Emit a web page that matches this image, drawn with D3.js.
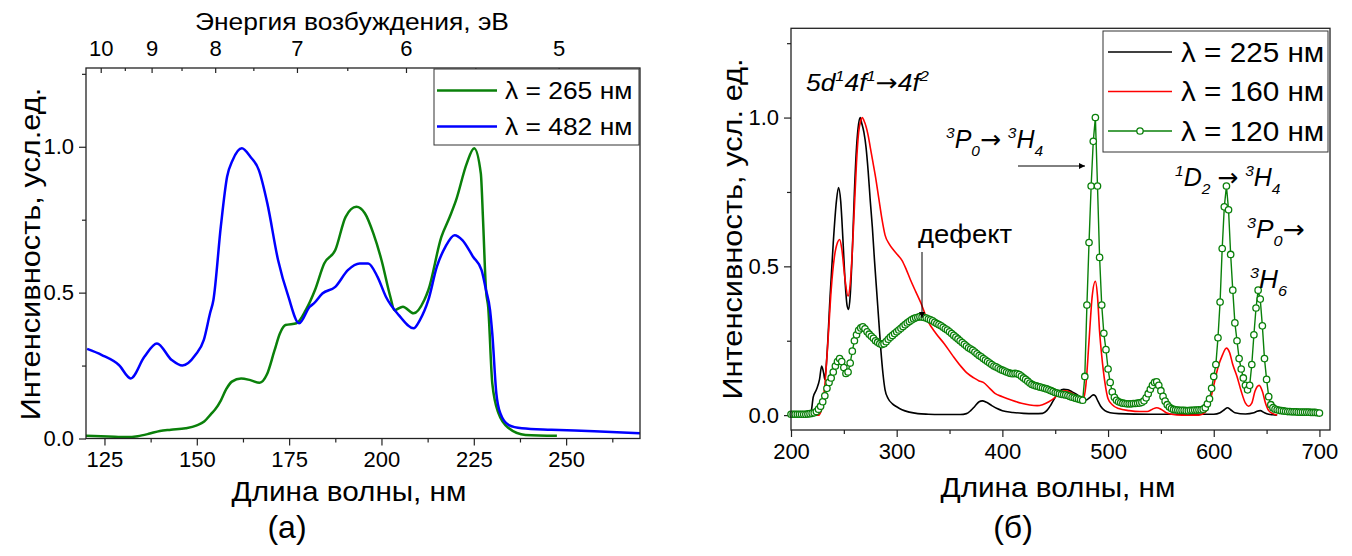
<!DOCTYPE html>
<html><head><meta charset="utf-8">
<script src="https://cdn.jsdelivr.net/npm/d3@7"></script>
<style>
body{margin:0;background:#fff}
svg{display:block}
text{font-family:"Liberation Sans", Arial, sans-serif;fill:#000}
</style></head><body>
<svg id="c" width="1352" height="556"></svg>
<script>
// ---------- Panel (a) data ----------
const wlA265 = [120,126,131,134,137,140,143,147,150,152,154,155,156.5,158,159.5,162,164.5,167,169,171,172.5,174,177,179.5,182,184.5,187.5,190.3,193.2,195.5,197.8,200,202.4,203.5,205.8,208.7,211.6,212.7,216.2,218.5,220.2,223.1,225.1,226.9,227.5,228.3,228.9,230,231.7,234.5,239,247.5];
const valA265 = [0.009,0.007,0.005,0.008,0.016,0.026,0.03,0.035,0.045,0.058,0.086,0.1,0.13,0.17,0.195,0.206,0.2,0.191,0.22,0.3,0.36,0.389,0.395,0.44,0.509,0.6,0.646,0.76,0.794,0.772,0.703,0.612,0.486,0.44,0.452,0.429,0.475,0.509,0.69,0.76,0.817,0.943,0.995,0.909,0.75,0.509,0.45,0.19,0.086,0.035,0.012,0.009];
const wlA482 = [120.3,124.3,128.9,132.1,135.8,139.2,143.2,146.1,149.6,151.9,153.6,154.5,156.5,158.2,159.7,162.2,164.5,166.8,169.1,172,174.8,177.7,180.6,181.7,184,187.5,190.9,194.1,196.4,198.9,201.2,204.7,208.7,210.4,212.7,215,217.3,219.8,221.9,224.8,227.1,228.3,229.4,230,231.1,232.2,234.5,238,246,257.6,270];
const valA482 = [0.307,0.286,0.252,0.206,0.28,0.326,0.269,0.25,0.286,0.338,0.43,0.475,0.726,0.897,0.954,0.995,0.966,0.92,0.806,0.612,0.486,0.395,0.452,0.463,0.497,0.52,0.577,0.60,0.60,0.555,0.486,0.423,0.378,0.406,0.475,0.589,0.657,0.697,0.68,0.623,0.577,0.509,0.44,0.36,0.155,0.086,0.046,0.035,0.03,0.025,0.018];
const seriesA = ["λ = 265 нм","λ = 482 нм"];
const xTicksA = [125,150,175,200,225,250];
const xMinorA = [137.5,162.5,187.5,212.5,237.5,262.5];
const yTicksA = [0,0.5,1.0];
const yMinorA = [0.25,0.75,1.25];
const eTicks = [10,9,8,7,6,5];
const eMinor = [9.5,8.5,7.5,6.5,5.5];

// ---------- Panel (b) data ----------
const wlB225 = [200,217,219,221,224,227,229,231,232,234,237,240,243,245,247,249,251,253,254.5,256,258,260,262,264,265.5,267,269,271,273,275,277,279,281,283,285,287,289,292,296,300,305,312,320,330,340,360,366,370,374,378,381,385,390,395,400,410,420,430,438,442,446,450,454,458,462,466,470,474,477,480,483,486,488,490,493,497,502,510,540,600,606,610,613,616,620,630,638,641,644,648,652,656,660];
const valB225 = [0,0,0.01,0.06,0.085,0.12,0.165,0.14,0.12,0.2,0.4,0.58,0.72,0.765,0.72,0.6,0.46,0.37,0.355,0.4,0.55,0.75,0.9,0.98,1.0,0.98,0.95,0.9,0.82,0.72,0.63,0.52,0.42,0.32,0.22,0.14,0.085,0.055,0.038,0.028,0.018,0.01,0.005,0.003,0.002,0.002,0.005,0.015,0.03,0.045,0.048,0.043,0.032,0.022,0.015,0.009,0.006,0.005,0.006,0.015,0.035,0.06,0.08,0.087,0.085,0.078,0.07,0.06,0.05,0.052,0.06,0.068,0.065,0.05,0.03,0.015,0.008,0.005,0.003,0.003,0.008,0.018,0.025,0.018,0.008,0.004,0.008,0.013,0.015,0.008,0.003,0.001,0];
const wlB160 = [215,226,229,232,235,238,241,244,246,248,251,254,256,258,260,262,264,266,267.5,269,271,273,275,277,280,283,286,289,293,297,301,305,309,313,318,323,329,337,345,353,361,367,373,378,382,388,393,400,409,418,426,433,438,444,450,455,460,466,472,476,479,482,485,488,490,492,494,497,500,504,510,520,530,537,542,546,550,555,560,570,586,592,596,600,604,608,612,615,618,622,626,630,633,636,639,643,646,649,652,656,660];
const valB160 = [0,0,0.02,0.1,0.25,0.42,0.53,0.58,0.59,0.56,0.46,0.4,0.44,0.55,0.7,0.85,0.95,0.99,1.0,0.99,0.97,0.94,0.9,0.86,0.8,0.73,0.66,0.605,0.575,0.555,0.538,0.52,0.49,0.455,0.415,0.376,0.32,0.275,0.24,0.2,0.163,0.14,0.125,0.115,0.11,0.09,0.073,0.062,0.05,0.04,0.034,0.032,0.035,0.045,0.06,0.08,0.082,0.073,0.06,0.05,0.1,0.25,0.4,0.45,0.4,0.28,0.2,0.11,0.055,0.035,0.022,0.015,0.012,0.012,0.02,0.025,0.02,0.008,0.003,0,0,0.01,0.04,0.1,0.16,0.2,0.225,0.21,0.17,0.13,0.08,0.04,0.03,0.04,0.08,0.1,0.08,0.04,0.015,0.005,0];
// λ = 120 нм: sampled every 2 nm from 200 to 700 nm
const wlB120 = d3.range(200, 701, 2);
const valB120 = [
0.003,0.003,0.003,0.003,0.003,0.003,0.003,0.003,0.004,0.005,
0.006,0.008,0.012,0.02,0.03,0.045,0.065,0.09,0.11,0.125,
0.145,0.165,0.18,0.19,0.18,0.16,0.14,0.145,0.175,0.215,
0.25,0.27,0.285,0.293,0.297,0.29,0.28,0.272,0.265,0.258,
0.25,0.245,0.24,0.237,0.24,0.247,0.255,0.262,0.268,0.274,
0.28,0.286,0.292,0.298,0.304,0.31,0.315,0.32,0.324,0.327,
0.329,0.331,0.33,0.328,0.326,0.323,0.32,0.317,0.312,0.308,
0.304,0.3,0.295,0.29,0.286,0.28,0.274,0.268,0.262,0.256,
0.25,0.244,0.238,0.232,0.226,0.222,0.218,0.212,0.206,0.2,
0.196,0.19,0.185,0.18,0.175,0.17,0.165,0.162,0.158,0.154,
0.151,0.148,0.145,0.142,0.14,0.139,0.14,0.139,0.136,0.131,
0.125,0.12,0.114,0.108,0.103,0.1,0.098,0.096,0.094,0.092,
0.09,0.088,0.085,0.082,0.079,0.076,0.074,0.072,0.07,0.069,
0.068,0.066,0.063,0.06,0.058,0.056,0.054,0.052,0.05,0.13,
0.37,0.58,0.77,0.92,1.0,0.77,0.53,0.37,0.275,0.22,
0.155,0.11,0.078,0.06,0.05,0.045,0.042,0.04,0.039,0.038,
0.038,0.038,0.039,0.039,0.04,0.041,0.043,0.048,0.058,0.072,
0.087,0.1,0.11,0.112,0.1,0.082,0.063,0.047,0.035,0.027,
0.022,0.019,0.018,0.017,0.016,0.016,0.016,0.015,0.015,0.016,
0.016,0.017,0.017,0.018,0.018,0.02,0.025,0.038,0.055,0.09,
0.13,0.17,0.26,0.38,0.56,0.7,0.77,0.69,0.54,0.42,
0.31,0.25,0.19,0.155,0.125,0.1,0.085,0.1,0.17,0.27,
0.36,0.42,0.39,0.3,0.19,0.12,0.062,0.035,0.025,0.02,
0.018,0.016,0.015,0.014,0.013,0.012,0.012,0.011,0.011,0.011,
0.01,0.01,0.01,0.01,0.01,0.01,0.009,0.009,0.009,0.008,
0.007];
const seriesB = ["λ = 225 нм","λ = 160 нм","λ = 120 нм"];
const xTicksB = [200,300,400,500,600,700];
const xMinorB = [250,350,450,550,650];
const yTicksB = [0,0.5,1.0];
const yMinorB = [0.25,0.75,1.25];

// ---------- drawing ----------
const svg = d3.select("#c");
svg.append("rect").attr("width",1352).attr("height",556).attr("fill","#fff");
const AX = "#222";
const TICKFS = 22;
const GREEN = "#0a800a";

function styleAxis(g){
  g.select(".domain").remove();
  g.selectAll(".tick line").attr("stroke",AX).attr("stroke-width",1.2);
  g.selectAll(".tick text").attr("font-size",TICKFS).attr("font-family","Liberation Sans, Arial, sans-serif").attr("fill","#000");
}
function zip(xs, ys){ return xs.map((x,i)=>[x, ys[i]]); }
// text with horizontal stretch
function T(g, x, y, str, fs, opt={}){
  const sx = opt.sx ?? 1.1, rot = opt.rot ?? 0;
  const t = g.append("text").attr("transform",`translate(${x},${y}) rotate(${rot}) scale(${sx},1)`)
    .attr("font-size",fs).attr("text-anchor",opt.anchor||"start");
  if(opt.family) t.attr("font-family",opt.family);
  if(str!=null) t.text(str);
  return t;
}
function rich(g, x, y, parts, fs, sx){
  const t = T(g, x, y, null, fs, {sx}).attr("font-style","italic");
  let shift = 0;
  parts.forEach(p=>{
    const target = p.sup ? -0.42*fs : p.sub ? 0.3*fs : 0;
    const ts = t.append("tspan").attr("dy",target-shift).attr("font-size",(p.sup||p.sub)?fs*0.62:fs).text(p.t);
    if(p.arrow) ts.attr("font-family","DejaVu Sans").attr("font-style","normal");
    shift = target;
  });
  return t;
}

// ===== Panel (a) =====
const xA = d3.scaleLinear().domain([120,270]).range([86,640]);
const yA = d3.scaleLinear().domain([0,1.27]).range([438.5,68]);
const gA = svg.append("g");

gA.append("g").attr("transform","translate(0,438.5)")
  .call(d3.axisBottom(xA).tickValues(xTicksA).tickSize(7).tickPadding(6).tickFormat(d3.format("d"))).call(styleAxis);
gA.append("g").attr("transform","translate(0,438.5)")
  .call(d3.axisBottom(xA).tickValues(xMinorA).tickSize(4).tickFormat("")).call(styleAxis);
gA.append("g").attr("transform","translate(86,0)")
  .call(d3.axisLeft(yA).tickValues(yTicksA).tickSize(7).tickPadding(5).tickFormat(d3.format(".1f"))).call(styleAxis);
gA.append("g").attr("transform","translate(86,0)")
  .call(d3.axisLeft(yA).tickValues(yMinorA).tickSize(4).tickFormat("")).call(styleAxis);
// top energy axis (E = 1239.84 / λ)
gA.append("g").attr("transform","translate(0,68)")
  .call(d3.axisTop(xA).tickValues(eTicks.map(e=>1239.84/e)).tickSize(-5).tickPadding(12).tickFormat((d,i)=>eTicks[i])).call(styleAxis);
gA.append("g").attr("transform","translate(0,68)")
  .call(d3.axisTop(xA).tickValues(eMinor.map(e=>1239.84/e)).tickSize(-3).tickFormat("")).call(styleAxis);

const lineA = d3.line().x(d=>xA(d[0])).y(d=>yA(d[1])).curve(d3.curveMonotoneX);
gA.append("path").datum(zip(wlA265,valA265)).attr("d",lineA).attr("fill","none").attr("stroke",GREEN).attr("stroke-width",2.5);
gA.append("path").datum(zip(wlA482,valA482)).attr("d",lineA).attr("fill","none").attr("stroke","#0000ff").attr("stroke-width",2.5);

gA.append("rect").attr("x",86).attr("y",68).attr("width",554).attr("height",370.5).attr("fill","none").attr("stroke",AX).attr("stroke-width",1.3);

// legend a
const legA = gA.append("g");
legA.append("rect").attr("x",434).attr("y",69).attr("width",205).attr("height",76).attr("fill","#fff").attr("stroke","#333").attr("stroke-width",1);
const colA = [GREEN,"#0000ff"];
seriesA.forEach((s,i)=>{
  const yy = 90.5 + i*36;
  legA.append("line").attr("x1",437).attr("x2",497).attr("y1",yy).attr("y2",yy).attr("stroke",colA[i]).attr("stroke-width",2.5);
  T(legA, 505, yy+8.5, s, 24, {sx:1.1});
});

// titles a
T(gA, 349, 501, "Длина волны, нм", 27, {anchor:"middle"});
T(gA, 352, 30, "Энергия возбуждения, эВ", 24, {anchor:"middle"});
T(gA, 40, 254, "Интенсивность, усл.ед.", 28, {anchor:"middle", rot:-90});
T(gA, 287, 538, "(a)", 32, {anchor:"middle", sx:1, family:"Liberation Serif, Times New Roman, serif"});

// ===== Panel (b) =====
const xB = d3.scaleLinear().domain([200,710]).range([791,1330]);
const yB = d3.scaleLinear().domain([-0.05,1.30]).range([430,28.3]);
const gB = svg.append("g");

gB.append("g").attr("transform","translate(0,430)")
  .call(d3.axisBottom(xB).tickValues(xTicksB).tickSize(7).tickPadding(6).tickFormat(d3.format("d"))).call(styleAxis);
gB.append("g").attr("transform","translate(0,430)")
  .call(d3.axisBottom(xB).tickValues(xMinorB).tickSize(4).tickFormat("")).call(styleAxis);
gB.append("g").attr("transform","translate(791,0)")
  .call(d3.axisLeft(yB).tickValues(yTicksB).tickSize(7).tickPadding(5).tickFormat(d3.format(".1f"))).call(styleAxis);
gB.append("g").attr("transform","translate(791,0)")
  .call(d3.axisLeft(yB).tickValues(yMinorB).tickSize(4).tickFormat("")).call(styleAxis);

const lineB = d3.line().x(d=>xB(d[0])).y(d=>yB(d[1])).curve(d3.curveMonotoneX);
const lineBlin = d3.line().x(d=>xB(d[0])).y(d=>yB(d[1]));
gB.append("path").datum(zip(wlB225,valB225)).attr("d",lineB).attr("fill","none").attr("stroke","#000").attr("stroke-width",1.6);
gB.append("path").datum(zip(wlB160,valB160)).attr("d",lineB).attr("fill","none").attr("stroke","#ff0000").attr("stroke-width",1.6);
const g120 = zip(wlB120,valB120);
gB.append("path").datum(g120).attr("d",lineBlin).attr("fill","none").attr("stroke",GREEN).attr("stroke-width",1.4);
gB.append("g").selectAll("circle").data(g120).join("circle")
  .attr("cx",d=>xB(d[0])).attr("cy",d=>yB(d[1])).attr("r",3.2)
  .attr("fill","#fff").attr("stroke",GREEN).attr("stroke-width",1.3);

gB.append("rect").attr("x",791).attr("y",28.3).attr("width",539).attr("height",401.7).attr("fill","none").attr("stroke",AX).attr("stroke-width",1.3);

// legend b
const legB = gB.append("g");
legB.append("rect").attr("x",1103).attr("y",31).attr("width",225).attr("height",121).attr("fill","#fff").attr("stroke","#333").attr("stroke-width",1);
const colB = ["#000","#ff0000",GREEN];
seriesB.forEach((s,i)=>{
  const yy = 52 + i*39.5;
  legB.append("line").attr("x1",1108).attr("x2",1172).attr("y1",yy).attr("y2",yy).attr("stroke",colB[i]).attr("stroke-width",1.6);
  if(i===2) legB.append("circle").attr("cx",1140).attr("cy",yy).attr("r",3.2).attr("fill","#fff").attr("stroke",colB[i]).attr("stroke-width",1.3);
  T(legB, 1181, yy+9.5, s, 27, {sx:1.1});
});

// annotations
rich(gB, 806, 91, [{t:"5d"},{t:"1",sup:1},{t:"4f"},{t:"1",sup:1},{t:"→",arrow:1},{t:"4f"},{t:"2",sup:1}], 24, 1.1);
rich(gB, 946, 148, [{t:"3",sup:1},{t:"P"},{t:"0",sub:1},{t:"→",arrow:1},{t:" "},{t:"3",sup:1},{t:"H"},{t:"4",sub:1}], 25, 1.0);
rich(gB, 1175, 186, [{t:"1",sup:1},{t:"D"},{t:"2",sub:1},{t:" "},{t:"→",arrow:1},{t:" "},{t:"3",sup:1},{t:"H"},{t:"4",sub:1}], 25, 1.0);
rich(gB, 1247, 238, [{t:"3",sup:1},{t:"P"},{t:"0",sub:1},{t:"→",arrow:1}], 25, 1.05);
rich(gB, 1250, 288, [{t:"3",sup:1},{t:"H"},{t:"6",sub:1}], 25, 1.05);
T(gB, 918, 243, "дефект", 25, {sx:1.1});

// arrows
const defs = svg.append("defs");
defs.append("marker").attr("id","ah").attr("viewBox","0 0 10 10").attr("refX",10).attr("refY",5)
  .attr("markerWidth",9).attr("markerHeight",6).attr("markerUnits","userSpaceOnUse").attr("orient","auto")
  .append("path").attr("d","M0,0 L10,5 L0,10 Z").attr("fill","#000");
gB.append("line").attr("x1",922).attr("y1",252).attr("x2",922).attr("y2",318).attr("stroke","#000").attr("stroke-width",1).attr("marker-end","url(#ah)");
gB.append("line").attr("x1",1018).attr("y1",166).attr("x2",1085).attr("y2",166).attr("stroke","#000").attr("stroke-width",1).attr("marker-end","url(#ah)");

// titles b
T(gB, 1058, 497, "Длина волны, нм", 27, {anchor:"middle"});
T(gB, 742, 229, "Интенсивность, усл. ед.", 28, {anchor:"middle", rot:-90});
T(gB, 1013, 538, "(б)", 32, {anchor:"middle", sx:1, family:"Liberation Serif, Times New Roman, serif"});
</script></body></html>
